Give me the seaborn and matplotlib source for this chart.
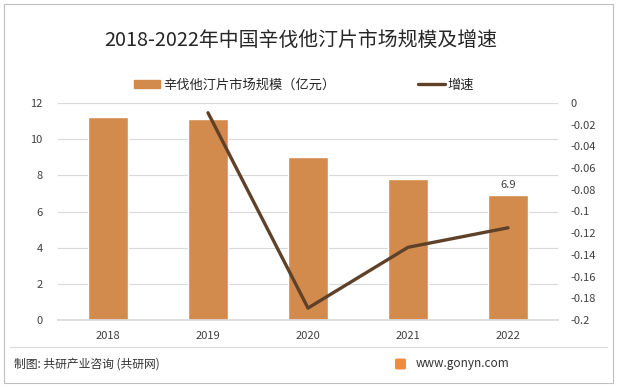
import pandas as pd
import numpy as np
import seaborn as sns
import matplotlib.pyplot as plt
from matplotlib.patches import Rectangle, FancyBboxPatch
from matplotlib.lines import Line2D

years = ['2018', '2019', '2020', '2021', '2022']
market_size = [11.2, 11.1, 9.0, 7.8, 6.9]
growth = [np.nan, -0.009, -0.189, -0.133, -0.115]

bar_color = '#D38B4D'
line_color = '#5E4128'

sns.set_theme(style='white')
plt.rcParams['font.family'] = ['Noto Sans CJK SC', 'DejaVu Sans']
plt.rcParams['axes.unicode_minus'] = False

df = pd.DataFrame({'year': years, 'size': market_size, 'growth': growth})
df['pos'] = range(len(years))

fig = plt.figure(figsize=(6.17, 3.87), dpi=100)
ax = fig.add_axes([58 / 617, 1 - 320 / 387, 500 / 617, 217 / 387])

sns.barplot(data=df, x='year', y='size', color=bar_color, width=0.4,
            saturation=1, ax=ax, zorder=2)
ax.set_ylim(0, 12)
ax.set_yticks(range(0, 13, 2))
ax.set_xlim(-0.5, 4.5)
ax.set_xlabel('')
ax.set_ylabel('')
ax.grid(axis='y', color='#D9D9D9', linewidth=0.8, zorder=0)
ax.set_axisbelow(True)
for s in ['top', 'left', 'right']:
    ax.spines[s].set_visible(False)
ax.spines['bottom'].set_color('#D9D9D9')
ax.tick_params(axis='both', length=0, labelsize=8, colors='#404040')
ax.tick_params(axis='x', pad=8)
ax.tick_params(axis='y', pad=11)

# data label on last bar
ax.bar_label(ax.containers[0], labels=['', '', '', '', '6.9'], padding=4,
             fontsize=8, color='#404040')

ax2 = ax.twinx()
sns.lineplot(data=df, x='pos', y='growth', color=line_color, linewidth=2.4, ax=ax2)
ax2.set_ylim(-0.2, 0)
ax2.set_yticks(np.round(np.arange(-0.2, 0.001, 0.02), 2))
ax2.set_yticklabels(['-0.2', '-0.18', '-0.16', '-0.14', '-0.12', '-0.1',
                     '-0.08', '-0.06', '-0.04', '-0.02', '0'])
ax2.set_xlim(-0.5, 4.5)
ax2.set_ylabel('')
ax2.set_xlabel('')
for s in ['top', 'left', 'right', 'bottom']:
    ax2.spines[s].set_visible(False)
ax2.tick_params(axis='y', length=0, labelsize=8, colors='#404040', pad=9)

fig.text(301 / 617, 1 - 40 / 387, '2018-2022年中国辛伐他汀片市场规模及增速',
         ha='center', va='center', fontsize=14.3, color='#262626')

handles = [Rectangle((0, 0), 1, 1, color=bar_color),
           Line2D([0], [0], color=line_color, linewidth=2.4)]
fig.legend(handles, ['辛伐他汀片市场规模（亿元）', '增速'], loc='center',
           bbox_to_anchor=(304 / 617, 1 - 85 / 387), ncol=2, frameon=False,
           fontsize=9.5, handlelength=2.0, handleheight=0.6, columnspacing=6.3,
           handletextpad=0.2)

# footer
fig.add_artist(Line2D([10 / 617, 607 / 617], [1 - 347 / 387, 1 - 347 / 387],
                      color='#D9D9D9', linewidth=0.8))
fig.text(14 / 617, 1 - 364 / 387, '制图: 共研产业咨询 (共研网)', ha='left',
         va='center', fontsize=8.5, color='#333333')
fig.text(509 / 617, 1 - 364 / 387, 'www.gonyn.com', ha='right', va='center',
         fontsize=8.5, color='#333333')
fig.add_artist(FancyBboxPatch((397 / 617, 1 - 368 / 387), 7 / 617, 8 / 387,
                              boxstyle='round,pad=0.002', color='#F08A3C',
                              transform=fig.transFigure))
fig.add_artist(Rectangle((4 / 617, 4 / 387), 609 / 617, 379 / 387, fill=False,
                         edgecolor='#BFBFBF', linewidth=0.8,
                         transform=fig.transFigure))

fig.savefig('out.png', dpi=100)
